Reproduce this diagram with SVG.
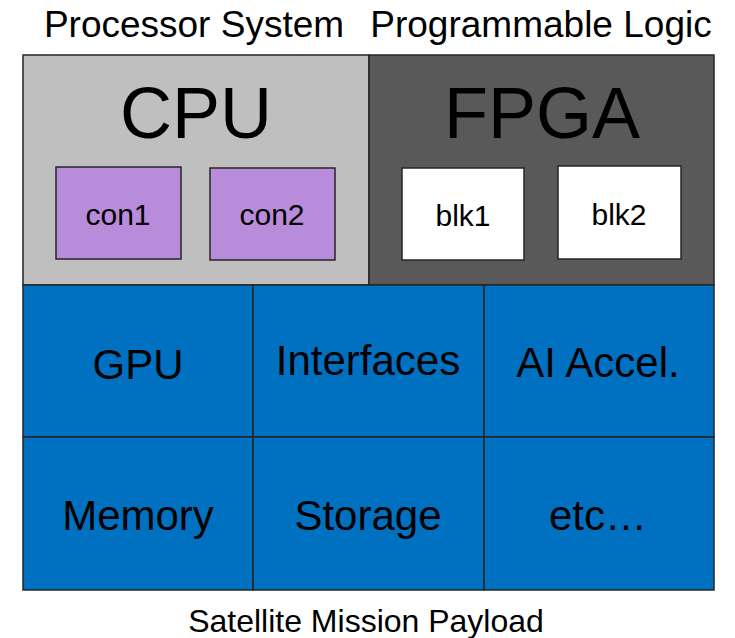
<svg xmlns="http://www.w3.org/2000/svg" width="735" height="638" viewBox="0 0 735 638">
  <style>
    text { font-family: "Liberation Sans", Arial, sans-serif; fill: #000; text-anchor: middle; }
    .frame { stroke: #262626; stroke-width: 1.5; }
    .cpu { fill: #bfbfbf; }
    .fpga { fill: #595959; }
    .blue { fill: #0070c0; }
    .con { fill: #b98bdb; }
    .blk { fill: #ffffff; }
    .big { font-size: 72px; }
    .mid { font-size: 42px; }
    .small { font-size: 30px; }
    .head { font-size: 37px; }
    .foot { font-size: 32px; }
  </style>
  <rect width="735" height="638" fill="#ffffff"/>

  <!-- section headings -->
  <text class="head" x="194" y="37">Processor System</text>
  <text class="head" x="541" y="37">Programmable Logic</text>

  <!-- processor side -->
  <g id="cpu">
    <rect class="frame cpu" x="23" y="55" width="346" height="230"/>
    <text class="big" x="196" y="138">CPU</text>
  </g>
  <g id="con1">
    <rect class="frame con" x="56" y="167" width="125" height="92"/>
    <text class="small" x="118" y="225">con1</text>
  </g>
  <g id="con2">
    <rect class="frame con" x="210" y="168" width="125" height="92"/>
    <text class="small" x="272" y="225">con2</text>
  </g>

  <!-- programmable logic side -->
  <g id="fpga">
    <rect class="frame fpga" x="369" y="55" width="345" height="230"/>
    <text class="big" x="542" y="138">FPGA</text>
  </g>
  <g id="blk1">
    <rect class="frame blk" x="402" y="168" width="122" height="92"/>
    <text class="small" x="463" y="226">blk1</text>
  </g>
  <g id="blk2">
    <rect class="frame blk" x="558" y="166" width="123" height="93"/>
    <text class="small" x="619" y="225">blk2</text>
  </g>

  <!-- payload grid -->
  <g id="gpu">
    <rect class="frame blue" x="23" y="285" width="230" height="152"/>
    <text class="mid" x="138" y="379">GPU</text>
  </g>
  <g id="interfaces">
    <rect class="frame blue" x="253" y="285" width="231" height="152"/>
    <text class="mid" x="368" y="375">Interfaces</text>
  </g>
  <g id="ai-accel">
    <rect class="frame blue" x="484" y="285" width="230" height="152"/>
    <text class="mid" x="598" y="377">AI Accel.</text>
  </g>
  <g id="memory">
    <rect class="frame blue" x="23" y="437" width="230" height="153"/>
    <text class="mid" x="138" y="530">Memory</text>
  </g>
  <g id="storage">
    <rect class="frame blue" x="253" y="437" width="231" height="153"/>
    <text class="mid" x="368" y="530">Storage</text>
  </g>
  <g id="etc">
    <rect class="frame blue" x="484" y="437" width="230" height="153"/>
    <text class="mid" x="598" y="530">etc…</text>
  </g>

  <g id="connectors"/>

  <text class="foot" x="366" y="632">Satellite Mission Payload</text>
</svg>
